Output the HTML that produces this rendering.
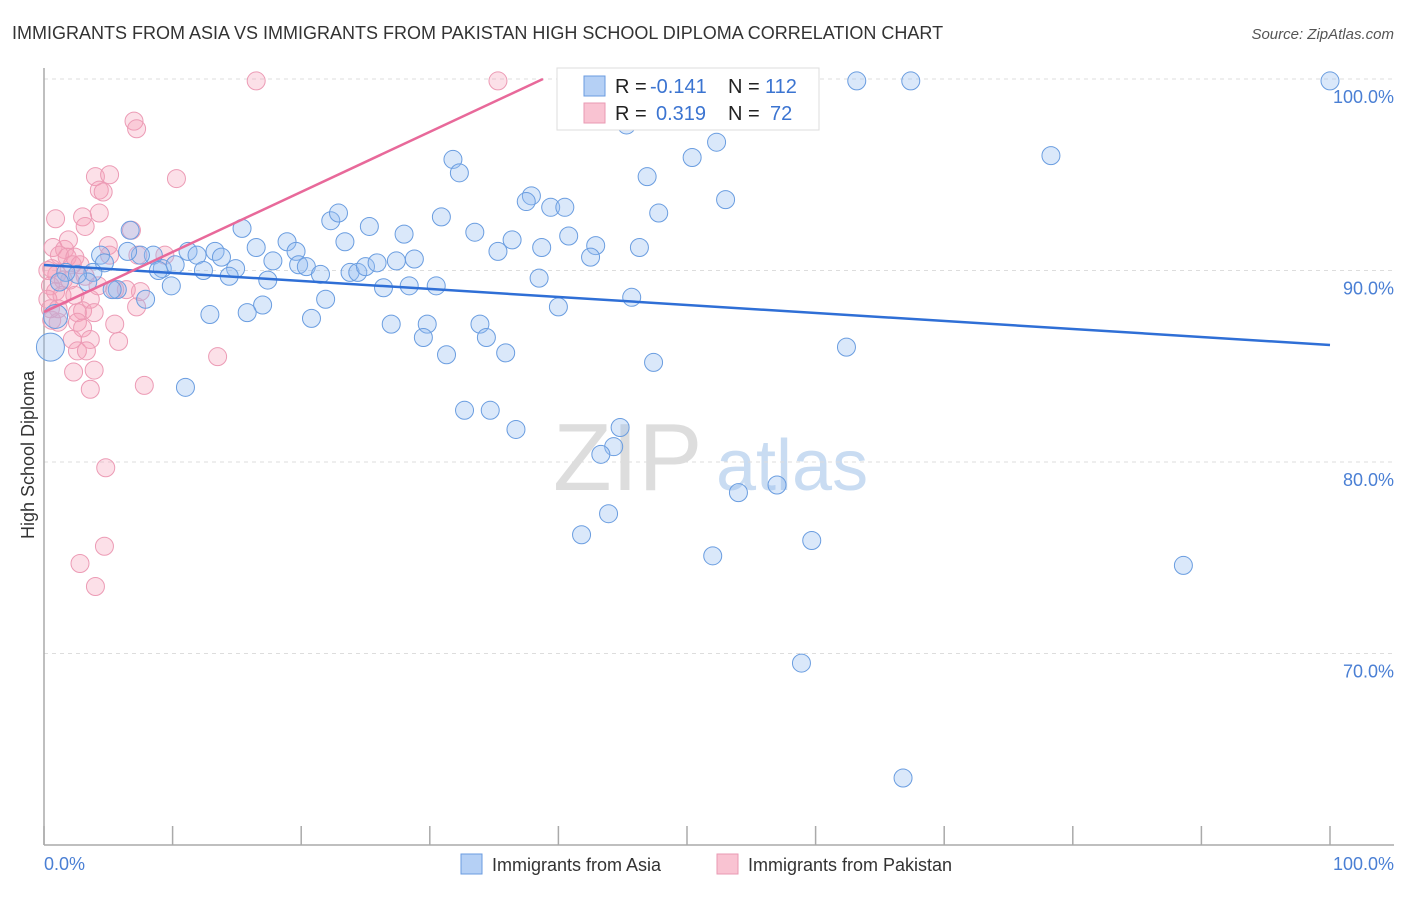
<!DOCTYPE html>
<html><head><meta charset="utf-8"><style>
body{margin:0;background:#fff;font-family:"Liberation Sans",sans-serif}
svg text{font-family:"Liberation Sans",sans-serif}
</style></head><body>
<svg id="chart" width="1406" height="892" xmlns="http://www.w3.org/2000/svg">
<text x="12" y="39" font-size="18" fill="#333">IMMIGRANTS FROM ASIA VS IMMIGRANTS FROM PAKISTAN HIGH SCHOOL DIPLOMA CORRELATION CHART</text>
<text x="1394" y="39" font-size="15" fill="#555" font-style="italic" text-anchor="end">Source: ZipAtlas.com</text>
<g>
<text x="553" y="490" font-size="96" font-family="Liberation Serif" fill="#ddd">ZIP</text>
<text x="716" y="490" font-size="72" fill="#c9dcf2">atlas</text>
</g>
<g id="grid"></g>
<g id="axes"></g>
<g id="pts"></g>
<g id="trends"></g>
<text transform="translate(34,455) rotate(-90)" font-size="18" fill="#333" text-anchor="middle">High School Diploma</text>
<text x="44" y="870" font-size="18" fill="#4a7fd4">0.0%</text>
<text x="1394" y="870" font-size="18" fill="#4a7fd4" text-anchor="end">100.0%</text>
<g>
<rect x="557" y="68" width="262" height="62" fill="#fff" stroke="#ddd"/>
<rect x="584" y="76" width="21" height="20" fill="#b5d0f5" stroke="#6a9be0"/>
<rect x="584" y="103" width="21" height="20" fill="#f9c3d2" stroke="#e99ab3"/>
<text x="615" y="93" font-size="20" fill="#222">R =</text>
<text x="650" y="93" font-size="20" fill="#3b74d1">-0.141</text>
<text x="728" y="93" font-size="20" fill="#222">N =</text>
<text x="765" y="93" font-size="20" fill="#3b74d1">112</text>
<text x="615" y="120" font-size="20" fill="#222">R =</text>
<text x="656" y="120" font-size="20" fill="#3b74d1">0.319</text>
<text x="728" y="120" font-size="20" fill="#222">N =</text>
<text x="770" y="120" font-size="20" fill="#3b74d1">72</text>
</g>
<g>
<rect x="461" y="854" width="21" height="20" fill="#b5d0f5" stroke="#6a9be0"/>
<text x="492" y="871" font-size="18" fill="#333">Immigrants from Asia</text>
<rect x="717" y="854" width="21" height="20" fill="#f9c3d2" stroke="#e99ab3"/>
<text x="748" y="871" font-size="18" fill="#333">Immigrants from Pakistan</text>
</g>
</svg>
<script>
const yTicks=[100,90,80,70];
const yTickLabels=["100.0%","90.0%","80.0%","70.0%"];
const xTicks=[0,10,20,30,40,50,60,70,80,90,100];
const asiaX=[63.2,67.4,100,53.4,45.3,50.4,52.3,78.3,31.8,32.3,46.9,37.9,37.5,39.4,40.5,53.0,47.8,30.9,22.3,22.9,15.4,25.3,33.5,28.0,36.4,23.4,18.9,42.9,38.7,46.3,40.8,35.3,42.5,16.5,13.3,11.2,11.9,13.8,19.6,17.8,8.5,7.5,6.5,4.4,4.7,6.7,9.2,10.2,8.9,12.4,14.9,14.4,17.4,19.8,20.4,21.5,23.8,24.4,25.0,25.9,27.4,28.8,38.5,26.4,28.4,30.5,21.9,17.0,15.8,12.9,20.8,27.0,29.8,29.5,33.9,34.4,35.9,31.3,40.0,45.7,9.9,7.9,5.7,5.3,3.8,3.4,2.6,1.7,1.2,0.5,0.9,47.4,62.4,11.0,32.7,34.7,36.7,44.8,44.3,43.3,54.0,57.0,43.9,41.8,52.0,59.7,88.6,58.9,66.8];
const asiaY=[99.9,99.9,99.9,98.6,97.6,95.9,96.7,96.0,95.8,95.1,94.9,93.9,93.6,93.3,93.3,93.7,93.0,92.8,92.6,93.0,92.2,92.3,92.0,91.9,91.6,91.5,91.5,91.3,91.2,91.2,91.8,91.0,90.7,91.2,91.0,91.0,90.8,90.7,91.0,90.5,90.8,90.8,91.0,90.8,90.4,92.1,90.1,90.3,90.0,90.0,90.1,89.7,89.5,90.3,90.2,89.8,89.9,89.9,90.2,90.4,90.5,90.6,89.6,89.1,89.2,89.2,88.5,88.2,87.8,87.7,87.5,87.2,87.2,86.5,87.2,86.5,85.7,85.6,88.1,88.6,89.2,88.5,89.0,89.0,89.9,89.4,89.8,89.9,89.4,86.0,87.6,85.2,86.0,83.9,82.7,82.7,81.7,81.8,80.8,80.4,78.4,78.8,77.3,76.2,75.1,75.9,74.6,69.5,63.5];
const pakX=[16.5,35.3,7.0,7.2,10.3,4.0,5.1,4.3,4.6,0.9,3.0,4.3,3.2,6.8,5.0,0.7,1.6,1.9,1.2,1.8,2.4,2.2,0.6,1.0,1.5,2.0,3.2,0.5,0.9,1.4,2.4,3.6,0.3,3.0,2.6,3.9,7.2,7.5,6.4,4.2,5.5,0.6,1.1,2.6,3.0,5.5,2.2,3.6,5.8,2.6,3.3,2.3,3.9,3.6,7.8,13.5,4.8,4.7,2.8,4.0,9.4,7.3,0.5,1.1,5.1,0.3,2.8];
const pakY=[99.9,99.9,97.8,97.4,94.8,94.9,95.0,94.2,94.1,92.7,92.8,93.0,92.3,92.1,91.3,91.2,91.1,91.6,90.8,90.7,90.7,90.3,90.1,89.8,89.5,89.5,89.7,89.2,88.9,88.7,88.7,88.5,88.5,87.9,87.8,87.8,88.1,88.9,89.0,89.2,89.0,87.4,87.3,87.3,87.0,87.2,86.4,86.4,86.3,85.8,85.8,84.7,84.8,83.8,84.0,85.5,79.7,75.6,74.7,73.5,90.8,90.8,88.0,88.0,90.8,90.0,90.3];
const asiaTrendX=[0,100];
const asiaTrendY=[90.29,86.11];
const pakTrendX=[0,38.8];
const pakTrendY=[87.83,100];
const NS="http://www.w3.org/2000/svg";
const sx=v=>44+v*12.86;
const sy=v=>79+(100-v)*19.15;
function mk(tag,attrs,parent){const e=document.createElementNS(NS,tag);for(const k in attrs)e.setAttribute(k,attrs[k]);parent.appendChild(e);return e;}
const grid=document.getElementById('grid'),axes=document.getElementById('axes'),pts=document.getElementById('pts'),trends=document.getElementById('trends');
yTicks.forEach((t,i)=>{
  const l=mk('line',{x1:44,x2:1394,y1:sy(t),y2:sy(t),stroke:'#ddd','stroke-dasharray':'4,4'},grid);
  
  
  const tx=mk('text',{x:1394,y:sy(t)+24,'font-size':18,fill:'#4a7fd4','text-anchor':'end'},grid);
  tx.textContent=yTickLabels[i];
  
  
});
const ya=mk('line',{x1:44,x2:44,y1:68,y2:845,stroke:'#aaa','stroke-width':1.5},axes);


const xa=mk('line',{x1:44,x2:1394,y1:845,y2:845,stroke:'#aaa','stroke-width':1.5},axes);


xTicks.forEach(t=>{
  const l=mk('line',{x1:sx(t),x2:sx(t),y1:826,y2:845,stroke:'#aaa','stroke-width':1.5},axes);
  
  
});
function drawPts(X,Y,fill,stroke,name){
  X.forEach((x,i)=>{
    const r=(x<1.0&&name==='asia-point')?(Y[i]<87?14:12):9;
    const c=mk('circle',{cx:sx(x),cy:sy(Y[i]),r:r,fill:fill,stroke:stroke,'stroke-width':1},pts);
    
    
  });
}
drawPts(pakX,pakY,'rgba(245,160,185,0.32)','#ec9bb5','pakistan-point');
drawPts(asiaX,asiaY,'rgba(150,190,240,0.35)','#6a9de0','asia-point');
const lb=mk('line',{x1:sx(asiaTrendX[0]),y1:sy(asiaTrendY[0]),x2:sx(asiaTrendX[1]),y2:sy(asiaTrendY[1]),stroke:'#2f6fd6','stroke-width':2.5},trends);


const lp=mk('line',{x1:sx(pakTrendX[0]),y1:sy(pakTrendY[0]),x2:sx(pakTrendX[1]),y2:sy(pakTrendY[1]),stroke:'#e8699a','stroke-width':2.5},trends);


</script>
</body></html>
